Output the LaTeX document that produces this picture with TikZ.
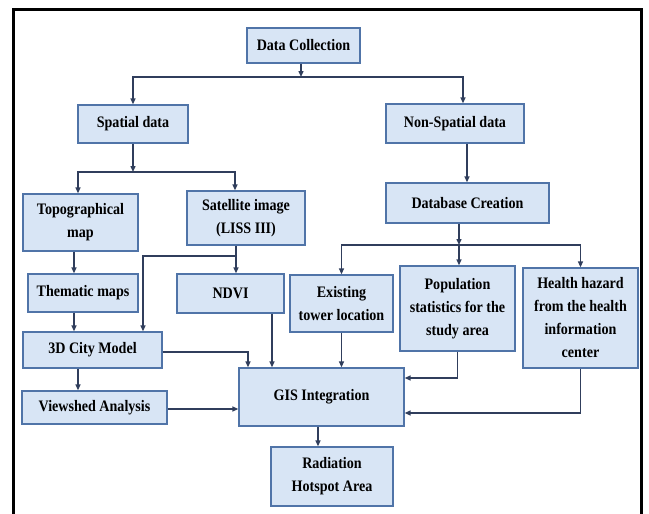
\documentclass[tikz,border=0pt]{standalone}
\usepackage{fontspec}
\setmainfont{Liberation Serif}[FakeStretch=0.88]
\usetikzlibrary{arrows.meta}
\definecolor{boxfill}{RGB}{216,229,245}
\definecolor{boxline}{RGB}{80,116,168}
\definecolor{arrowc}{RGB}{48,62,92}

\begin{document}
\begin{tikzpicture}[x=1pt,y=-1pt,>={Triangle[length=6pt,width=5pt]},
 font=\fontsize{16}{23}\selectfont\bfseries,
 bx/.style={draw=boxline,line width=1.3pt,fill=boxfill,align=center,inner sep=0pt,minimum width=#1},
 ln/.style={draw=arrowc,line width=1.4pt}]
\useasboundingbox (0,0) rectangle (649,514);
\draw[line width=3pt] (13,514) -- (13,9) -- (641,9) -- (641,514);
\node[bx=113pt,minimum height=35pt] (dc) at (303.5,45.5) {Data Collection};
\node[bx=110pt,minimum height=38pt] (sp) at (133,124) {Spatial data};
\node[bx=138pt,minimum height=39pt] (nsp) at (455,123.5) {Non-Spatial data};
\node[bx=163pt,minimum height=40pt] (db) at (467.5,203) {Database Creation};
\node[bx=115pt,minimum height=57pt] (topo) at (80.5,222.5) {Topographical\\map};
\node[bx=118pt,minimum height=54pt] (sat) at (246,218) {Satellite image\\(LISS III)};
\node[bx=110pt,minimum height=38pt] (them) at (83,293) {Thematic maps};
\node[bx=107pt,minimum height=39pt] (ndvi) at (230.5,293.5) {NDVI};
\node[bx=103pt,minimum height=57pt] (tower) at (341.5,303.5) {Existing\\tower location};
\node[bx=115pt,minimum height=85pt] (pop) at (457.5,308.5) {Population\\statistics for the\\study area};
\node[bx=115pt,minimum height=100pt] (hh) at (580.5,318) {Health hazard\\from the health\\information\\center};
\node[bx=139pt,minimum height=36pt] (city) at (92.5,350) {3D City Model};
\node[bx=145pt,minimum height=33pt] (view) at (94.5,407.5) {Viewshed Analysis};
\node[bx=165pt,minimum height=58pt] (gis) at (321.5,397) {GIS Integration};
\node[bx=122pt,minimum height=59pt] (rad) at (332,476.5) {Radiation\\Hotspot Area};
\coordinate (j1) at (301,77);
\coordinate (j2) at (133,172);
\coordinate (j3) at (236,256);
\coordinate (j5) at (459,245);
\draw[ln,->] (dc.south -| j1) -- (j1);
\draw[ln,->] (j1) -| (sp.north);
\draw[ln,->] (j1) -| ([xshift=8pt]nsp.north);
\draw[ln,->] ([xshift=12pt]nsp.south) -- ([xshift=12pt]nsp.south |- db.north);
\draw[ln,->] (sp.south) -- (j2);
\draw[ln,->] (j2) -| ([xshift=-2.5pt]topo.north);
\draw[ln,->] (j2) -| ([xshift=-11pt]sat.north);
\draw[ln,->] (j3 |- sat.south) -- (j3 |- ndvi.north);
\draw[ln,->] (j3) -| ([xshift=50.5pt]city.north);
\draw[ln,->] ([xshift=-6.5pt]topo.south) -- ([xshift=-6.5pt]topo.south |- them.north);
\draw[ln,->] ([xshift=-9pt]them.south) -- ([xshift=-9pt]them.south |- city.north);
\draw[ln,->] ([xshift=-14.5pt]city.south) -- ([xshift=-14.5pt]city.south |- view.north);
\draw[ln,->] ([yshift=-2pt]city.east) -| ([xshift=-73.5pt]gis.north);
\draw[ln,->] ([yshift=-1.5pt]view.east) -- ([yshift=-1.5pt]view.east -| gis.west);
\draw[ln,->] ([xshift=41.5pt]ndvi.south) -- ([xshift=41.5pt]ndvi.south |- gis.north);
\draw[ln,->] (tower.south) -- (tower.south |- gis.north);
\draw[ln,->] (j5 |- db.south) -- (j5);
\draw[ln,->] (j5) -| (tower.north);
\draw[ln,->] (j5) -- (j5 |- pop.north);
\draw[ln,->] (j5) -| (hh.north);
\draw[ln,->] (pop.south) |- ([yshift=19pt]gis.east);
\draw[ln,->] (hh.south) |- ([yshift=-16pt]gis.east);
\draw[ln,->] ([xshift=-3.5pt]gis.south) -- ([xshift=-3.5pt]gis.south |- rad.north);
\end{tikzpicture}
\end{document}
